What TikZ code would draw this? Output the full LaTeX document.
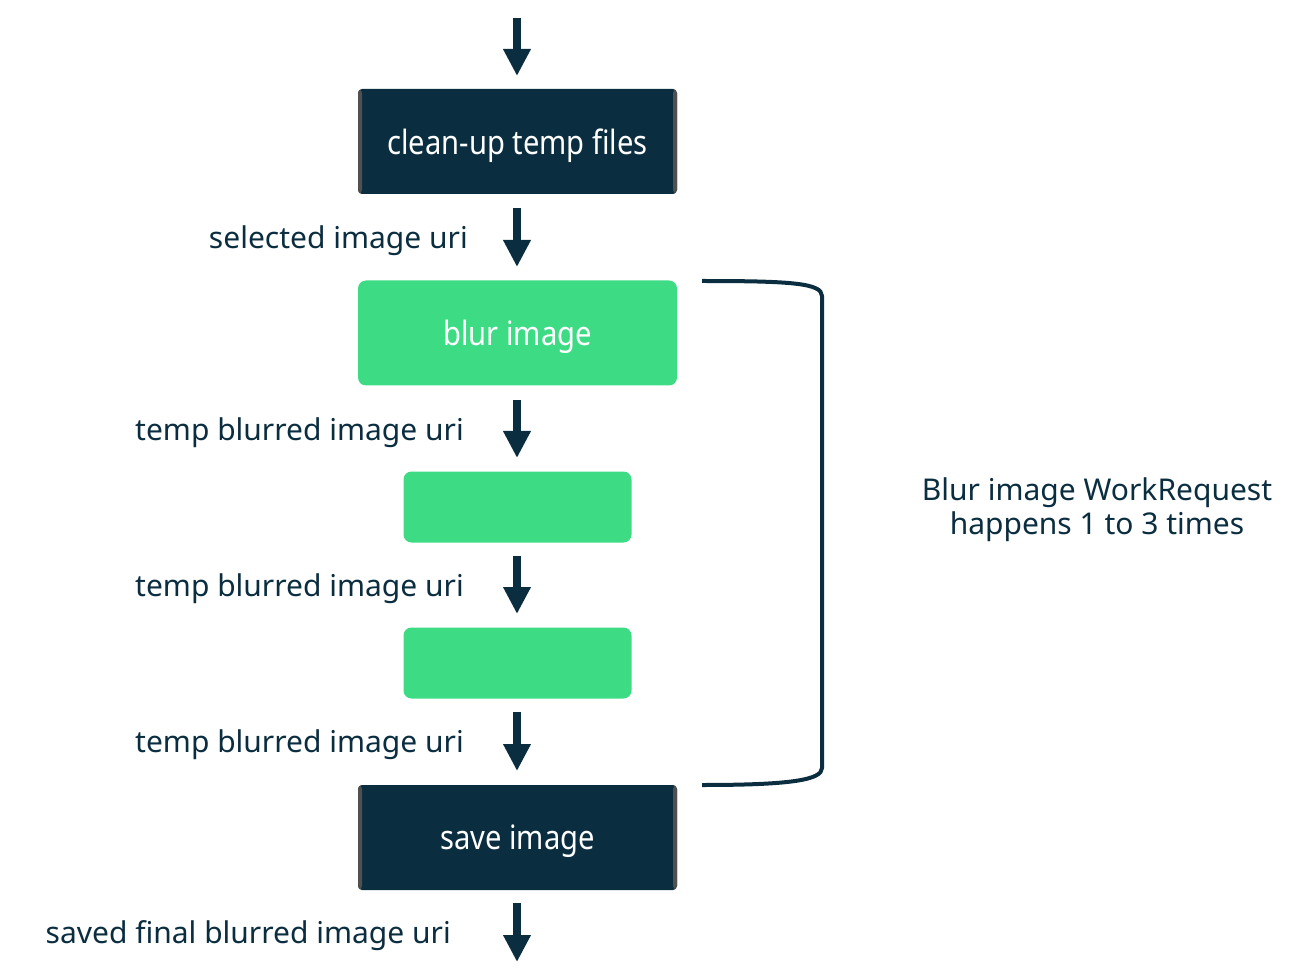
\documentclass[tikz,border=0pt]{standalone}
\usepackage{fontspec}
\setmainfont{Noto Sans}
\newfontfamily\condfont[FakeStretch=0.87]{Noto Sans}
\usetikzlibrary{arrows.meta}
\definecolor{navy}{HTML}{0B2D40}
\definecolor{agreen}{HTML}{3DDC84}
\definecolor{edgegray}{HTML}{505050}
\tikzset{
  flow/.style={draw=navy, line width=8pt, -{Triangle[width=26pt,length=27pt]}},
  darkbox/.style={fill=navy, rounded corners=4pt, minimum width=319pt, minimum height=105pt, inner sep=0pt,
    text=white, text depth=0pt, font=\condfont\fontsize{33.5}{38}\selectfont,
    path picture={\fill[edgegray] (path picture bounding box.south west) rectangle ([xshift=4pt]path picture bounding box.north west);
                  \fill[edgegray] (path picture bounding box.south east) rectangle ([xshift=-4pt]path picture bounding box.north east);}},
  greenbox/.style={fill=agreen, rounded corners=8pt, inner sep=0pt, text=white, text depth=0pt, font=\condfont\fontsize{33.5}{38}\selectfont},
  lbl/.style={anchor=base east, inner sep=0pt, text=navy, font=\fontsize{30}{36}\selectfont},
}
\begin{document}
\begin{tikzpicture}[x=1pt,y=-1pt]
\useasboundingbox (0,0) rectangle (1312,973);
\coordinate (a0s) at (517,18);
\coordinate (a0e) at (517,76);
\draw[flow] (a0s) -- (a0e);
\node[darkbox] (clean) at (517.5,141.5) {clean-up temp files};
\node[lbl] (l1) at (468,249) {selected image uri};
\coordinate (a1s) at (517,208);
\coordinate (a1e) at (517,267);
\draw[flow] (a1s) -- (a1e);
\node[greenbox, minimum width=319pt, minimum height=105pt] (blur) at (517.5,333) {blur image};
\node[lbl] (l2) at (464,440) {temp blurred image uri};
\coordinate (a2s) at (517,400);
\coordinate (a2e) at (517,458);
\draw[flow] (a2s) -- (a2e);
\node[greenbox, minimum width=228pt, minimum height=71pt] (b2) at (517.5,507) {};
\node[lbl] (l3) at (464,596) {temp blurred image uri};
\coordinate (a3s) at (517,556);
\coordinate (a3e) at (517,614);
\draw[flow] (a3s) -- (a3e);
\node[greenbox, minimum width=228pt, minimum height=71pt] (b3) at (517.5,663) {};
\node[lbl] (l4) at (464,752) {temp blurred image uri};
\coordinate (a4s) at (517,712);
\coordinate (a4e) at (517,771);
\draw[flow] (a4s) -- (a4e);
\node[darkbox] (save) at (517.5,837.5) {save image};
\node[lbl] (l5) at (451,943) {saved final blurred image uri};
\coordinate (a5s) at (517,903);
\coordinate (a5e) at (517,962);
\draw[flow] (a5s) -- (a5e);
\coordinate (bt) at (702,281);
\coordinate (bb) at (702,785);
\draw[navy, line width=4pt] (bt) .. controls (790,281) and (822,283) .. (822,296) -- (822,768) .. controls (822,780) and (790,785) .. (bb);
\node[text=navy, align=center, inner sep=0pt, font=\fontsize{30}{34}\selectfont] (note) at (1097,510) {Blur image WorkRequest\\happens 1 to 3 times};
\end{tikzpicture}
\end{document}
